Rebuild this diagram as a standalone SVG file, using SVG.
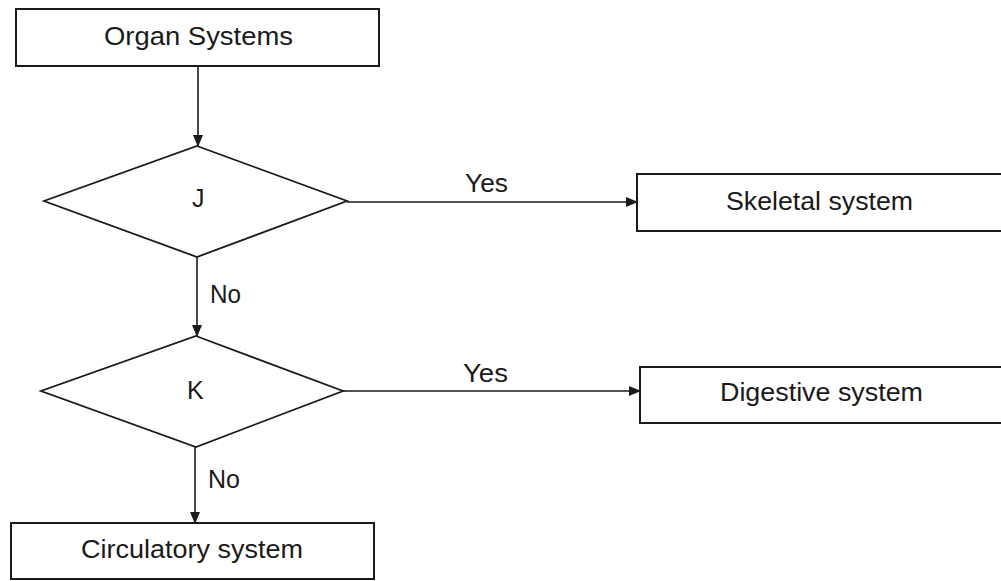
<svg xmlns="http://www.w3.org/2000/svg" width="1001" height="581" viewBox="0 0 1001 581">
<style>
.box{fill:#fff;stroke:#1a1a1a;stroke-width:2}
.dia{fill:#fff;stroke:#1a1a1a;stroke-width:1.8}
.t{font-family:"Liberation Sans",Arial,sans-serif;font-size:25px;fill:#1a1a1a}
.c{text-anchor:middle}
.ln{fill:none;stroke:#1a1a1a;stroke-width:1.6}
</style>
<defs>
<marker id="ah" markerWidth="12" markerHeight="10" refX="11" refY="5" orient="auto" markerUnits="userSpaceOnUse">
<path d="M0,0 L12,5 L0,10 Z" fill="#1a1a1a"/>
</marker>
</defs>
<rect width="1001" height="581" fill="#fff"/>
<g id="connectors">
<line class="ln" x1="198" y1="66" x2="198" y2="146" marker-end="url(#ah)"/>
<line class="ln" x1="347" y1="202" x2="637" y2="202" marker-end="url(#ah)"/>
<line class="ln" x1="197" y1="257" x2="197" y2="336" marker-end="url(#ah)"/>
<line class="ln" x1="343" y1="391" x2="640" y2="391" marker-end="url(#ah)"/>
<line class="ln" x1="195" y1="447" x2="195" y2="523" marker-end="url(#ah)"/>
<text class="t" x="465" y="192" textLength="43" lengthAdjust="spacingAndGlyphs">Yes</text>
<text class="t" x="463" y="382" textLength="45" lengthAdjust="spacingAndGlyphs">Yes</text>
<text class="t" x="210" y="303" textLength="31" lengthAdjust="spacingAndGlyphs">No</text>
<text class="t" x="208" y="488" textLength="32" lengthAdjust="spacingAndGlyphs">No</text>
</g>
<g id="organ">
<rect class="box" x="16" y="9" width="363" height="57"/>
<text class="t" x="104" y="45" textLength="189" lengthAdjust="spacingAndGlyphs">Organ Systems</text>
</g>
<g id="J">
<polygon class="dia" points="197,146 347,201 197,257 44,201"/>
<text class="t" x="192" y="207">J</text>
</g>
<g id="skeletal">
<rect class="box" x="637" y="174" width="370" height="57"/>
<text class="t" x="726" y="210" textLength="187" lengthAdjust="spacingAndGlyphs">Skeletal system</text>
</g>
<g id="K">
<polygon class="dia" points="196,336 343,391 196,447 41,391"/>
<text class="t" x="187" y="399">K</text>
</g>
<g id="digestive">
<rect class="box" x="640" y="367" width="370" height="56"/>
<text class="t" x="720" y="401" textLength="203" lengthAdjust="spacingAndGlyphs">Digestive system</text>
</g>
<g id="circulatory">
<rect class="box" x="11" y="523" width="363" height="56"/>
<text class="t" x="81" y="558" textLength="222" lengthAdjust="spacingAndGlyphs">Circulatory system</text>
</g>
</svg>
